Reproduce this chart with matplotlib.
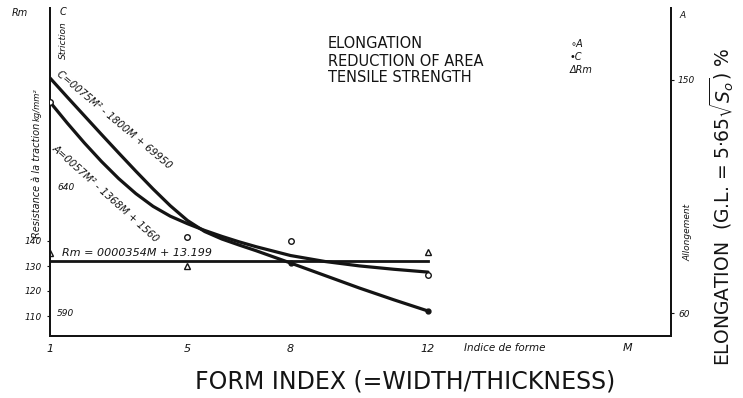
import matplotlib.pyplot as plt

# form index M and curves
m_curve = [1, 1.5, 2, 2.5, 3, 3.5, 4, 4.5, 5, 5.5, 6, 6.5, 7, 8, 9, 10, 11, 12]
c_curve = [68.36, 67.60, 66.85, 66.10, 65.36, 64.63, 63.92, 63.25, 62.66, 62.22,
           61.92, 61.68, 61.45, 60.96, 60.46, 59.96, 59.49, 59.04]
a_curve = [14.15, 13.34, 12.57, 11.85, 11.19, 10.61, 10.12, 9.74, 9.45, 9.19,
           8.96, 8.75, 8.56, 8.22, 7.99, 7.82, 7.69, 7.58]

m_rm_line = [1, 12]
rm_line = [13.2, 13.2]

# measured points
m_a_pts = [1, 5, 8, 12]
a_pts = [14.15, 8.94, 8.78, 7.47]
m_c_pts = [8, 12]
c_pts = [60.96, 59.04]
m_rm_pts = [1, 5, 12]
rm_pts = [13.52, 13.0, 13.56]

x_ticks = [1, 5, 8, 12]
x_tick_labels = ['1', '5', '8', '12']
rm_ticks = [11, 12, 13, 14]
rm_tick_labels = ['110', '120', '130', '140']
c_ticks = [59, 64]
c_tick_labels = ['590', '640']
a_ticks = [6, 15]
a_tick_labels = ['60', '150']

ink = '#141414'
W, H = 743, 398


def fx(px):
    return px / W


def fy(py):
    return 1 - py / H


fig = plt.figure(figsize=(7.43, 3.98), dpi=100)
ax = fig.add_axes([50 / W, 62 / H, 621 / W, 328 / H])
axC = ax.twinx()
axA = ax.twinx()

ax.set_xlim(1, 19.07)
ax.set_ylim(10.2, 10.2 + 328 / 25)
axC.set_ylim(58.04, 58.04 + 328 / 25)
axA.set_ylim(5.112, 5.112 + 328 / 25.89)

for a in (ax, axC, axA):
    a.spines['top'].set_visible(False)
    for s in ('left', 'right', 'bottom'):
        a.spines[s].set_linewidth(1.3)
        a.spines[s].set_color(ink)

# curves
axC.plot(m_curve, c_curve, color=ink, lw=2.3, solid_capstyle='round', solid_joinstyle='round')
axA.plot(m_curve, a_curve, color=ink, lw=2.3, solid_capstyle='round', solid_joinstyle='round')
ax.plot(m_rm_line, rm_line, color=ink, lw=2.0)

# points
axA.plot(m_a_pts, a_pts, 'o', mfc='white', mec=ink, ms=4, mew=1.0, zorder=5)
axC.plot(m_c_pts, c_pts, 'o', mfc=ink, mec=ink, ms=3.5, zorder=5)
ax.plot(m_rm_pts, rm_pts, '^', mfc='white', mec=ink, ms=5, mew=1.0, zorder=5)

# x axis
ax.set_xticks(x_ticks)
ax.set_xticklabels(x_tick_labels, fontsize=8, style='italic', color=ink)
ax.tick_params(axis='x', length=0, pad=6)

# Rm scale (left, outside)
ax.set_yticks(rm_ticks)
ax.set_yticklabels(rm_tick_labels, fontsize=6.5, style='italic', color=ink)
ax.tick_params(axis='y', length=2, pad=4, color=ink)

# C scale (left, inside)
axC.yaxis.tick_left()
axC.set_yticks(c_ticks)
axC.set_yticklabels(c_tick_labels, fontsize=6.5, style='italic', color=ink, ha='left')
axC.tick_params(axis='y', direction='in', length=0, pad=-5)

# A scale (right)
axA.set_yticks(a_ticks)
axA.set_yticklabels(a_tick_labels, fontsize=6.5, style='italic', color=ink)
axA.tick_params(axis='y', length=2, pad=3, color=ink)

# axis annotations
it = dict(style='italic', color=ink)
fig.text(fx(20), fy(13), 'Rm', fontsize=7, ha='center', va='center', **it)
fig.text(fx(63), fy(12), 'C', fontsize=7, ha='center', va='center', **it)
fig.text(fx(63), fy(40), 'Striction', fontsize=6.5, rotation=90, ha='center', va='center', **it)
fig.text(fx(37), fy(180), 'Resistance à la traction', fontsize=7, rotation=90,
         ha='center', va='center', **it)
fig.text(fx(37), fy(105), 'kg/mm²', fontsize=6, rotation=90, ha='center', va='center', **it)
fig.text(fx(683), fy(15), 'A', fontsize=6.5, ha='center', va='center', **it)
fig.text(fx(688), fy(232), 'Allongement', fontsize=6.5, rotation=90, ha='center', va='center', **it)
fig.text(fx(505), fy(348), 'Indice de forme', fontsize=7.5, ha='center', va='center', **it)
fig.text(fx(628), fy(348), 'M', fontsize=8, ha='center', va='center', **it)

# equations along the curves
fig.text(fx(114), fy(120), 'C=0075M² - 1800M + 69950', fontsize=7.3, rotation=-40,
         ha='center', va='center', **it)
fig.text(fx(106), fy(194), 'A=0057M² - 1368M + 1560', fontsize=7.3, rotation=-42,
         ha='center', va='center', **it)
fig.text(fx(137), fy(253), 'Rm = 0000354M + 13.199', fontsize=8, ha='center', va='center', **it)

# legend block
for txt, py in [('ELONGATION', 44), ('REDUCTION OF AREA', 61), ('TENSILE STRENGTH', 78)]:
    fig.text(fx(328), fy(py), txt, fontsize=10.5, ha='left', va='center', color=ink)
for txt, py in [('∘A', 44), ('•C', 57), ('ΔRm', 70)]:
    fig.text(fx(570), fy(py), txt, fontsize=7, ha='left', va='center', **it)

# big handwritten titles
fig.text(fx(405), fy(382), 'FORM INDEX (=WIDTH/THICKNESS)', fontsize=17,
         ha='center', va='center', color=ink)
fig.text(fx(722), fy(207), r'ELONGATION  (G.L. = 5·65$\sqrt{S_o}$) %', fontsize=13.5,
         rotation=90, ha='center', va='center', color=ink)

fig.savefig('out.png', dpi=100, facecolor='white')
